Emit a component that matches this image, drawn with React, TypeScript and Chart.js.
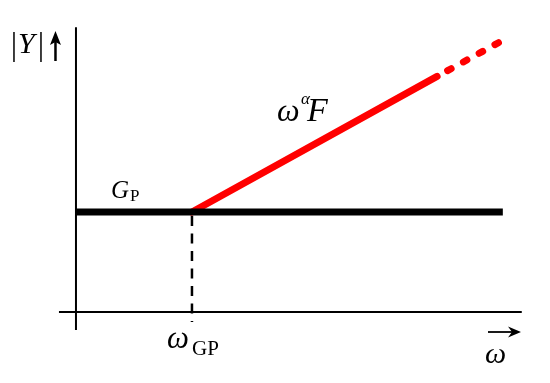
import { useEffect, useRef } from "react";
import { Chart, registerables } from "chart.js";
Chart.register(...registerables);

// Data (ω on x, |Y| on y, arbitrary units)
const omegaGP = 3;
const gainP = 2.5;
const flatLine = [
  { x: 0, y: 2.5 },
  { x: 11.04, y: 2.5 },
];
const redSolid = [
  { x: 3, y: 2.5 },
  { x: 9.34, y: 5.89 },
];
const redDashed = [
  { x: 9.34, y: 5.89 },
  { x: 10.96, y: 6.75 },
];
const dropLine = [
  { x: 3, y: 2.4 },
  { x: 3, y: -0.25 },
];
const xAxisLine = [
  { x: -0.44, y: 0 },
  { x: 11.53, y: 0 },
];
const yAxisLine = [
  { x: 0, y: -0.45 },
  { x: 0, y: 7.12 },
];
const xRange = [-1.965, 12.26];
const yRange = [-1.775, 7.8];

const serif = '"Liberation Serif", "Times New Roman", serif';

const labelPlugin = {
  id: "labels",
  afterDatasetsDraw(chart: any) {
    const ctx = chart.ctx as CanvasRenderingContext2D;
    const xs = chart.scales.x;
    const ys = chart.scales.y;
    const px = (v: number) => xs.getPixelForValue(v);
    const py = (v: number) => ys.getPixelForValue(v);
    ctx.save();
    ctx.fillStyle = "#000";
    ctx.strokeStyle = "#000";
    ctx.textBaseline = "alphabetic";
    ctx.textAlign = "left";

    // |Y| with up arrow
    const ax = px(0);
    ctx.lineWidth = 1.5;
    ctx.beginPath();
    ctx.moveTo(ax - 62, 32);
    ctx.lineTo(ax - 62, 62);
    ctx.moveTo(ax - 35, 32);
    ctx.lineTo(ax - 35, 62);
    ctx.stroke();
    ctx.font = `italic 30px ${serif}`;
    ctx.fillText("Y", ax - 58, 53);
    ctx.lineWidth = 2.5;
    ctx.beginPath();
    ctx.moveTo(ax - 20.5, 61);
    ctx.lineTo(ax - 20.5, 40);
    ctx.stroke();
    ctx.beginPath();
    ctx.moveTo(ax - 20.5, 31);
    ctx.lineTo(ax - 26, 45);
    ctx.lineTo(ax - 20.5, 42);
    ctx.lineTo(ax - 15, 45);
    ctx.closePath();
    ctx.fill();

    // G_P
    const gy = py(gainP);
    ctx.font = `italic 25px ${serif}`;
    ctx.fillText("G", 111, gy - 14);
    ctx.font = `17px ${serif}`;
    ctx.fillText("P", 130, gy - 11);

    // ω^α F
    ctx.font = `italic 32px ${serif}`;
    ctx.fillText("\u03c9", 277, 121);
    ctx.font = `italic 17px ${serif}`;
    ctx.fillText("\u03b1", 301, 104);
    ctx.font = `italic 34px ${serif}`;
    ctx.fillText("F", 307, 121);

    // ω_GP
    const gx = px(omegaGP);
    ctx.font = `italic 31px ${serif}`;
    ctx.fillText("\u03c9", gx - 25, 348);
    ctx.font = `21px ${serif}`;
    ctx.fillText("GP", gx, 355);

    // ω with right arrow
    ctx.font = `italic 30px ${serif}`;
    ctx.fillText("\u03c9", 485, 363);
    ctx.lineWidth = 1.8;
    ctx.beginPath();
    ctx.moveTo(488, 332);
    ctx.lineTo(516, 332);
    ctx.stroke();
    ctx.beginPath();
    ctx.moveTo(521, 332);
    ctx.lineTo(508, 326.5);
    ctx.lineTo(512, 332);
    ctx.lineTo(508, 337.5);
    ctx.closePath();
    ctx.fill();
    ctx.restore();
  },
};

export default function App() {
  const ref = useRef<HTMLCanvasElement | null>(null);
  useEffect(() => {
    if (!ref.current) return;
    const base = {
      pointRadius: 0,
      pointHoverRadius: 0,
      tension: 0,
      fill: false,
    };
    const chart = new Chart(ref.current, {
      type: "line",
      data: {
        datasets: [
          { ...base, data: yAxisLine, borderColor: "#000", borderWidth: 2, borderCapStyle: "butt" },
          { ...base, data: xAxisLine, borderColor: "#000", borderWidth: 2, borderCapStyle: "butt" },
          {
            ...base,
            data: dropLine,
            borderColor: "#000",
            borderWidth: 2.5,
            borderDash: [10, 7.5],
            borderCapStyle: "butt",
          },
          { ...base, data: flatLine, borderColor: "#000", borderWidth: 7, borderCapStyle: "butt" },
          { ...base, data: redSolid, borderColor: "#ff0000", borderWidth: 7, borderCapStyle: "round" },
          {
            ...base,
            data: redDashed,
            borderColor: "#ff0000",
            borderWidth: 7,
            borderCapStyle: "round",
            borderDash: [4, 14],
            borderDashOffset: 6,
          },
        ] as any,
      },
      options: {
        animation: false,
        responsive: false,
        maintainAspectRatio: false,
        layout: { padding: 0 },
        plugins: { legend: { display: false }, tooltip: { enabled: false } },
        events: [],
        scales: {
          x: { type: "linear", display: false, min: xRange[0], max: xRange[1] },
          y: { type: "linear", display: false, min: yRange[0], max: yRange[1] },
        },
      },
      plugins: [labelPlugin],
    });
    return () => chart.destroy();
  }, []);
  return (
    <div style={{ position: "absolute", left: 0, top: 0, width: 550, height: 383, background: "#fff" }}>
      <canvas ref={ref} width={550} height={383} style={{ width: 550, height: 383 }} />
    </div>
  );
}
